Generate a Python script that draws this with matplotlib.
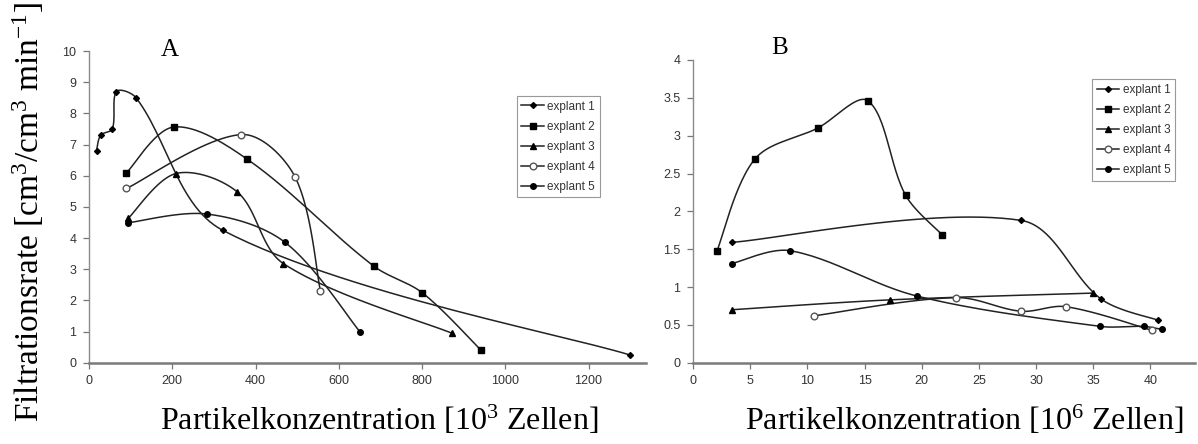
import numpy as np
import matplotlib.pyplot as plt
from matplotlib.lines import Line2D

plt.rcParams['font.family'] = ['Liberation Sans', 'DejaVu Sans']
plt.rcParams['mathtext.fontset'] = 'custom'
plt.rcParams['mathtext.rm'] = 'Liberation Serif'
plt.rcParams['mathtext.it'] = 'Liberation Serif:italic'

# Panel A: Partikelkonzentration [10^3 Zellen] vs. Filtrationsrate
a_x1 = [18, 28, 56, 66, 113, 321, 1299]
a_y1 = [6.8, 7.3, 7.5, 8.7, 8.5, 4.25, 0.25]
a_x2 = [90, 203, 380, 684, 801, 941]
a_y2 = [6.09, 7.56, 6.53, 3.10, 2.24, 0.41]
a_x3 = [94, 209, 356, 467, 873]
a_y3 = [4.63, 6.07, 5.48, 3.18, 0.94]
a_x4 = [90, 366, 495, 556]
a_y4 = [5.59, 7.32, 5.96, 2.30]
a_x5 = [94, 283, 471, 651]
a_y5 = [4.49, 4.77, 3.86, 0.99]

# Panel B: Partikelkonzentration [10^6 Zellen]
b_x1 = [3.4, 28.7, 35.7, 40.7]
b_y1 = [1.59, 1.88, 0.84, 0.56]
b_x2 = [2.1, 5.4, 10.9, 15.3, 18.6, 21.8]
b_y2 = [1.48, 2.69, 3.10, 3.46, 2.21, 1.69]
b_x3 = [3.4, 17.2, 35.0]
b_y3 = [0.70, 0.83, 0.92]
b_x4 = [10.6, 23.0, 28.7, 32.6, 40.1]
b_y4 = [0.62, 0.86, 0.68, 0.74, 0.43]
b_x5 = [3.4, 8.5, 19.6, 35.6, 39.4, 41.0]
b_y5 = [1.31, 1.48, 0.88, 0.48, 0.48, 0.44]

labels = ['explant 1', 'explant 2', 'explant 3', 'explant 4', 'explant 5']
styles = [
    dict(marker='D', ms=3, mfc='black', mec='black'),
    dict(marker='s', ms=4.8, mfc='black', mec='black'),
    dict(marker='^', ms=4.8, mfc='black', mec='black'),
    dict(marker='o', ms=4.8, mfc='white', mec='#555555', mew=1.0),
    dict(marker='o', ms=4, mfc='black', mec='black'),
]
line_col = '#222222'


def smooth(ax, x, y, n=30):
    # smoothed line in screen space: Bezier segments whose handles are
    # weighted by the neighbouring segment lengths (keeps overshoot small)
    tr = ax.transData
    p = tr.transform(np.column_stack([x, y]).astype(float))
    m = len(p)
    if m < 3:
        return x, y
    d = np.empty_like(p)
    d[1:-1] = p[2:] - p[:-2]
    d[0] = p[1] - p[0]
    d[-1] = p[-1] - p[-2]
    seglen = np.hypot(*(p[1:] - p[:-1]).T)
    t = np.linspace(0, 1, n)[:, None]
    out = [p[:1]]
    for i in range(m - 1):
        L = seglen[i]
        w1 = 1 / 6 if i == 0 else L / (seglen[i - 1] + L) / 3
        w2 = 1 / 6 if i == m - 2 else L / (L + seglen[i + 1]) / 3
        c1 = p[i] + d[i] * w1
        c2 = p[i + 1] - d[i + 1] * w2
        seg = ((1 - t) ** 3) * p[i] + 3 * ((1 - t) ** 2) * t * c1 \
            + 3 * (1 - t) * t ** 2 * c2 + t ** 3 * p[i + 1]
        out.append(seg[1:])
    pts = tr.inverted().transform(np.vstack(out))
    return pts[:, 0], pts[:, 1]


def draw(ax, xs, ys):
    for x, y, st in zip(xs, ys, styles):
        sx, sy = smooth(ax, x, y)
        ax.plot(sx, sy, color=line_col, lw=1.1, zorder=2)
        ax.plot(x, y, ls='none', zorder=3, **st)


def style_axes(ax):
    for s in ['top', 'right']:
        ax.spines[s].set_visible(False)
    ax.spines['left'].set_color('#8a8a8a')
    ax.spines['left'].set_linewidth(1.0)
    ax.spines['bottom'].set_color('#7a7a7a')
    ax.spines['bottom'].set_linewidth(1.8)
    ax.tick_params(axis='both', direction='out', length=4, width=0.9,
                   color='#777777', labelsize=9, labelcolor='#333333', pad=5)


def add_legend(ax, anchor):
    handles = [Line2D([0], [0], color=line_col, lw=1.1, **st) for st in styles]
    leg = ax.legend(handles, labels, loc='upper left', bbox_to_anchor=anchor,
                    fontsize=8.5, frameon=True, fancybox=False, framealpha=1,
                    edgecolor='#999999', handlelength=1.9, handletextpad=0.3,
                    labelspacing=0.68, borderpad=0.4, borderaxespad=0)
    leg.get_frame().set_linewidth(0.8)
    for t in leg.get_texts():
        t.set_color('#333333')


fig = plt.figure(figsize=(11.98, 4.44), dpi=100)
axA = fig.add_axes([0.0743, 0.1831, 0.4649, 0.7020])
axB = fig.add_axes([0.5785, 0.1831, 0.4190, 0.6818])

axA.set_xlim(0, 1338)
axA.set_ylim(0, 10)
draw(axA, [a_x1, a_x2, a_x3, a_x4, a_x5], [a_y1, a_y2, a_y3, a_y4, a_y5])
axA.set_xticks(range(0, 1201, 200))
axA.set_yticks(range(0, 11))
style_axes(axA)
add_legend(axA, (0.768, 0.856))

axB.set_xlim(0, 43.9)
axB.set_ylim(0, 4)
draw(axB, [b_x1, b_x2, b_x3, b_x4, b_x5], [b_y1, b_y2, b_y3, b_y4, b_y5])
axB.set_xticks(range(0, 41, 5))
axB.set_yticks([0, 0.5, 1, 1.5, 2, 2.5, 3, 3.5, 4])
axB.set_yticklabels(['0', '0.5', '1', '1.5', '2', '2.5', '3', '3.5', '4'])
style_axes(axB)
add_legend(axB, (0.795, 0.937))

serif = ['Liberation Serif', 'DejaVu Serif']
fig.text(170 / 1198, 1 - 50 / 444, 'A', family=serif, fontsize=18,
         ha='center', va='center')
fig.text(780 / 1198, 1 - 48 / 444, 'B', family=serif, fontsize=18,
         ha='center', va='center')

fig.text(379 / 1198, 1 - 420 / 444,
         r'Partikelkonzentration [10$^{\mathregular{3}}$ Zellen]',
         family=serif, fontsize=23, ha='center', va='center')
fig.text(964 / 1198, 1 - 420 / 444,
         r'Partikelkonzentration [10$^{\mathregular{6}}$ Zellen]',
         family=serif, fontsize=23, ha='center', va='center')
fig.text(28 / 1198, 1 - 212 / 444,
         r'Filtrationsrate [cm$^{\mathregular{3}}$/cm$^{\mathregular{3}}$ min$^{\mathregular{-1}}$]',
         family=serif, fontsize=24, ha='center', va='center', rotation=90)

fig.savefig('out.png', dpi=100)
